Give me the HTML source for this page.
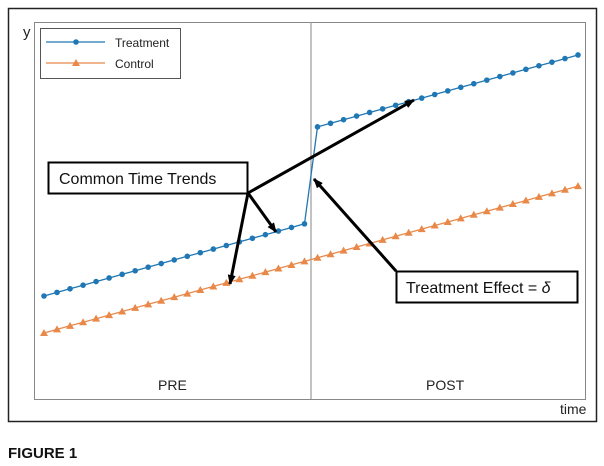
<!DOCTYPE html>
<html><head><style>body{margin:0;background:#fff}svg{display:block;font-family:"Liberation Sans",Arial,sans-serif}</style></head>
<body>
<svg width="604" height="466" viewBox="0 0 604 466">
<defs><marker id="ah" markerWidth="10" markerHeight="8" refX="9" refY="4" orient="auto" markerUnits="userSpaceOnUse"><path d="M0,0 L10,4 L0,8 z" fill="#000"/></marker></defs>
<rect x="8.5" y="8.5" width="588" height="413" fill="#fff" stroke="#222" stroke-width="1.5"/>
<rect x="34.5" y="22.5" width="551" height="377" fill="#fff" stroke="#888" stroke-width="1"/>
<line x1="311" y1="22" x2="311" y2="399" stroke="#999" stroke-width="1.2"/>
<text x="23" y="37" font-size="15" fill="#222">y</text>
<text x="560" y="414" font-size="14" fill="#222">time</text>
<text x="158" y="390" font-size="14" fill="#222">PRE</text>
<text x="426" y="390" font-size="14" fill="#222">POST</text>
<text x="8" y="458" font-size="15" font-weight="bold" fill="#111">FIGURE 1</text>
<g id="s"></g>
<rect x="40.5" y="28.5" width="140" height="50" fill="#fff" stroke="#555"/>
<line x1="46" y1="42" x2="105" y2="42" stroke="#1f77b4" stroke-width="1.3"/><circle cx="76" cy="42" r="2.8" fill="#1f77b4"/>
<text x="115" y="47" font-size="12" fill="#222">Treatment</text>
<line x1="46" y1="63" x2="105" y2="63" stroke="#e8894a" stroke-width="1.3"/><path d="M76,59 L80,66 L72,66z" fill="#e8894a"/>
<text x="115" y="68" font-size="12" fill="#222">Control</text>
<g stroke="#000" stroke-width="3" fill="none" marker-end="url(#ah)">
<line x1="248" y1="193" x2="414" y2="100"/>
<line x1="248" y1="193" x2="276" y2="232"/>
<line x1="248" y1="193" x2="230" y2="284"/>
<line x1="396" y1="271" x2="314" y2="179"/>
</g>
<rect x="48.5" y="162.5" width="199" height="31" fill="#fff" stroke="#000" stroke-width="2"/>
<text x="59" y="184" font-size="16" fill="#111">Common Time Trends</text>
<rect x="396.5" y="271.5" width="181" height="31" fill="#fff" stroke="#000" stroke-width="2"/>
<text x="406" y="293" font-size="16" fill="#111">Treatment Effect = <tspan font-style="italic">δ</tspan></text>
</svg>
<script>
var g=document.getElementById('s'),ns='http://www.w3.org/2000/svg',t='',c='',tp=[],cp=[];
for(var i=0;i<42;i++){var x=44+i*534/41;var ty=i<21?296-(x-44)*0.277:127-(x-317)*0.276;var cy=333-(x-44)*0.275;tp.push(x.toFixed(1)+','+ty.toFixed(1));cp.push(x.toFixed(1)+','+cy.toFixed(1));
t+='<circle cx="'+x+'" cy="'+ty+'" r="2.8" fill="#1f77b4"/>';c+='<path d="M'+x+','+(cy-4)+' L'+(x+4)+','+(cy+3)+' L'+(x-4)+','+(cy+3)+'z" fill="#e8894a"/>';}
g.innerHTML='<polyline points="'+cp.join(' ')+'" fill="none" stroke="#e8894a" stroke-width="1.3"/>'+c+'<polyline points="'+tp.join(' ')+'" fill="none" stroke="#1f77b4" stroke-width="1.3"/>'+t;
</script>
</body></html>
